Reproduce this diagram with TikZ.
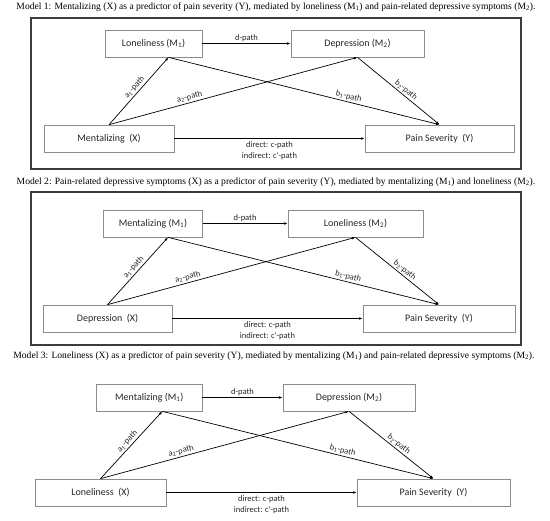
\documentclass[tikz,border=0pt]{standalone}
\usepackage{fontspec}
\setmainfont{Liberation Serif}
\newfontfamily\calfont{Carlito}
\usetikzlibrary{arrows.meta,calc}

\definecolor{boxgray}{HTML}{8C8C8C}
\definecolor{txtgray}{HTML}{262626}
\definecolor{framegray}{HTML}{3C3C3C}

\begin{document}
\begin{tikzpicture}[x=1pt,y=-1pt,
	varbox/.style={draw=boxgray, line width=0.7pt, minimum height=27pt, inner sep=0pt,
		font=\calfont\fontsize{10}{12}\selectfont, text=txtgray},
	pathlbl/.style={font=\calfont\fontsize{8.5}{11}\selectfont, text=txtgray, inner sep=1.5pt},
	conn/.style={-{Latex[length=3.5pt,width=2.6pt]}, line width=0.7pt},
	modelcap/.style={font=\fontsize{9.6}{11}\selectfont, inner sep=0pt},
	frame/.style={draw=framegray, line width=1.2pt}]
				\useasboundingbox (0,0) rectangle (550,521);

				% model 1
				\node[modelcap] (cap1) at (276,7) {Model 1: Mentalizing (X) as a predictor of pain severity (Y), mediated by loneliness (M\textsubscript{1}) and pain-related depressive symptoms (M\textsubscript{2}).};
				\draw[frame] (31,18) rectangle (521,169);
				\node[varbox, minimum width=97pt] (m1a) at (153.5,43.5) {Loneliness (M\textsubscript{1})};
				\node[varbox, minimum width=133pt] (m2a) at (357.5,43.5) {Depression (M\textsubscript{2})};
				\node[varbox, minimum width=130pt] (xa) at (109,138.5) {Mentalizing\ \ (X)};
				\node[varbox, minimum width=149pt] (ya) at (439.5,138.5) {Pain Severity\ \ (Y)};
				\draw[conn] (m1a) -- node[pathlbl,above] {d-path} (m2a);
				\draw[conn] (xa) -- node[pathlbl,below=1pt,align=center] {direct: c-path\\indirect: c'-path} (ya);
				\draw[conn] (xa.north) -- node[pathlbl,sloped,above,pos=0.5] {a\textsubscript{1}-path} ($(m1a.south)+(15,0)$);
				\draw[conn] (xa.north) -- node[pathlbl,sloped,above,pos=0.33] {a\textsubscript{2}-path} (m2a.south);
				\draw[conn] ($(m1a.south)+(15,0)$) -- node[pathlbl,sloped,above,pos=0.66] {b\textsubscript{1}-path} (ya.north);
				\draw[conn] (m2a.south) -- node[pathlbl,sloped,above,pos=0.55] {b\textsubscript{2}-path} (ya.north);

				% model 2
				\node[modelcap] (cap2) at (276,182) {Model 2: Pain-related depressive symptoms (X) as a predictor of pain severity (Y), mediated by mentalizing (M\textsubscript{1}) and loneliness (M\textsubscript{2}).};
				\draw[frame] (31,192) rectangle (521,345);
				\node[varbox, minimum width=98.5pt] (m1b) at (153,223.5) {Mentalizing (M\textsubscript{1})};
				\node[varbox, minimum width=135pt] (m2b) at (355.5,223.5) {Loneliness (M\textsubscript{2})};
				\node[varbox, minimum width=129pt] (xb) at (107.5,318.5) {Depression\ \ (X)};
				\node[varbox, minimum width=152pt] (yb) at (439,318.5) {Pain Severity\ \ (Y)};
				\draw[conn] (m1b) -- node[pathlbl,above] {d-path} (m2b);
				\draw[conn] (xb) -- node[pathlbl,below=1pt,align=center] {direct: c-path\\indirect: c'-path} (yb);
				\draw[conn] (xb.north) -- node[pathlbl,sloped,above,pos=0.5] {a\textsubscript{1}-path} ($(m1b.south)+(15,0)$);
				\draw[conn] (xb.north) -- node[pathlbl,sloped,above,pos=0.33] {a\textsubscript{2}-path} (m2b.south);
				\draw[conn] ($(m1b.south)+(15,0)$) -- node[pathlbl,sloped,above,pos=0.66] {b\textsubscript{1}-path} (yb.north);
				\draw[conn] (m2b.south) -- node[pathlbl,sloped,above,pos=0.55] {b\textsubscript{2}-path} (yb.north);

				% model 3 (no frame)
				\node[modelcap] (cap3) at (274,356) {Model 3: Loneliness (X) as a predictor of pain severity (Y), mediated by mentalizing (M\textsubscript{1}) and pain-related depressive symptoms (M\textsubscript{2}).};
				\node[varbox, minimum width=105.5pt] (m1c) at (149.3,397.5) {Mentalizing (M\textsubscript{1})};
				\node[varbox, minimum width=132pt] (m2c) at (349,397.5) {Depression (M\textsubscript{2})};
				\node[varbox, minimum width=131pt] (xc) at (100.5,492.5) {Loneliness\ \ (X)};
				\node[varbox, minimum width=153pt] (yc) at (433.5,492.5) {Pain Severity\ \ (Y)};
				\draw[conn] (m1c) -- node[pathlbl,above] {d-path} (m2c);
				\draw[conn] (xc) -- node[pathlbl,below=1pt,align=center] {direct: c-path\\indirect: c'-path} (yc);
				\draw[conn] (xc.north) -- node[pathlbl,sloped,above,pos=0.5] {a\textsubscript{1}-path} ($(m1c.south)+(13,0)$);
				\draw[conn] (xc.north) -- node[pathlbl,sloped,above,pos=0.33] {a\textsubscript{2}-path} (m2c.south);
				\draw[conn] ($(m1c.south)+(13,0)$) -- node[pathlbl,sloped,above,pos=0.66] {b\textsubscript{1}-path} (yc.north);
				\draw[conn] (m2c.south) -- node[pathlbl,sloped,above,pos=0.55] {b\textsubscript{2}-path} (yc.north);

			\end{tikzpicture}
\end{document}
